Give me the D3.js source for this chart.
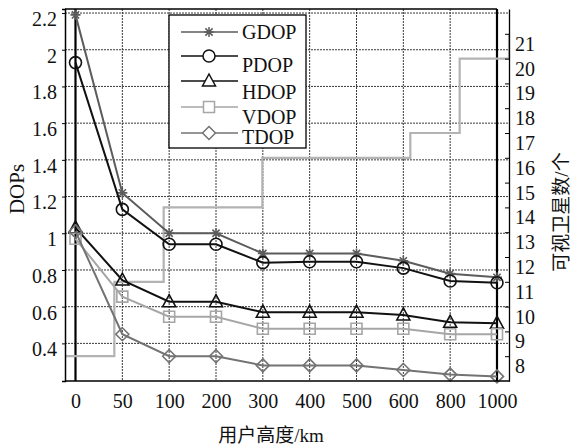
<!DOCTYPE html>
<html>
<head>
<meta charset="utf-8">
<script src="https://cdn.jsdelivr.net/npm/d3@7"></script>
<style>
  body { margin: 0; background: #fff; }
  svg text { font-family: 'Liberation Serif', 'Times New Roman', 'Noto Sans CJK SC', serif; fill: #111; }
</style>
</head>
<body>
<svg id="chart"></svg>
<script>
// heights (km) along the bottom axis
const heights = ['0', '50', '100', '200', '300', '400', '500', '600', '800', '1000'];

const gdop = [2.19, 1.22, 1.0, 1.0, 0.89, 0.89, 0.89, 0.85, 0.78, 0.76];
const pdop = [1.93, 1.13, 0.94, 0.94, 0.84, 0.845, 0.845, 0.81, 0.74, 0.73];
const hdop = [1.03, 0.745, 0.627, 0.627, 0.57, 0.57, 0.57, 0.555, 0.515, 0.51];
const vdop = [0.97, 0.655, 0.545, 0.545, 0.48, 0.48, 0.48, 0.48, 0.45, 0.45];
const tdop = [1.01, 0.45, 0.33, 0.33, 0.28, 0.28, 0.28, 0.255, 0.23, 0.22];

// visible satellites (right axis, drawn as stairs)
const satCount = [8, 11, 14, 14, 16, 16, 16, 17, 20, 21];

const leftTicks = [0.4, 0.6, 0.8, 1, 1.2, 1.4, 1.6, 1.8, 2, 2.2];
const rightTicks = [8, 9, 10, 11, 12, 13, 14, 15, 16, 17, 18, 19, 20, 21];

const seriesNames = ['GDOP', 'PDOP', 'HDOP', 'VDOP', 'TDOP'];
const seriesValues = [gdop, pdop, hdop, vdop, tdop];

const W = 572, H = 446;
const plot = { left: 65, right: 509, top: 9, bottom: 381 };
const FONT = "'Liberation Serif', 'Times New Roman', 'Noto Sans CJK SC', serif";

const svg = d3.select('#chart').attr('width', W).attr('height', H);

const x = d3.scalePoint().domain(heights).range([75.5, 497]);
const xStairs = d3.scaleLinear().domain([1, satCount.length]).range([plot.left, plot.right]);
const yL = d3.scaleLinear().domain([0.195, 2.222]).range([plot.bottom, plot.top]);
const yR = d3.scaleLinear().domain([7, 22]).range([plot.bottom, plot.top]);

const styles = [
    { color: '#5c5c5c', marker: 'star' },
    { color: '#111111', marker: 'circle' },
    { color: '#111111', marker: 'triangle' },
    { color: '#a6a6a6', marker: 'square' },
    { color: '#737373', marker: 'diamond' }
];

function markerPath(type) {
    switch (type) {
        case 'circle': return d3.symbol(d3.symbolCircle, 113)();
        case 'triangle': return 'M0,-7L6.5,5L-6.5,5Z';
        case 'square': return 'M-5.5,-5.5H5.5V5.5H-5.5Z';
        case 'diamond': return 'M0,-6.5L6.5,0L0,6.5L-6.5,0Z';
        default: return 'M0,-5V5M-5,0H5M-3.6,-3.6L3.6,3.6M-3.6,3.6L3.6,-3.6';
    }
}

// Grid
svg.append('g').selectAll('line')
    .data(leftTicks)
    .enter().append('line')
    .attr('x1', plot.left).attr('x2', plot.right)
    .attr('y1', d => yL(d)).attr('y2', d => yL(d))
    .attr('stroke', '#3a3a3a').attr('stroke-width', 1).attr('stroke-dasharray', '2,1');

svg.append('g').selectAll('line')
    .data(heights)
    .enter().append('line')
    .attr('x1', d => x(d)).attr('x2', d => x(d))
    .attr('y1', plot.top).attr('y2', plot.bottom)
    .attr('stroke', '#3a3a3a').attr('stroke-width', 1).attr('stroke-dasharray', '2,1');

// Thick lines at first and last height
svg.append('g').selectAll('line')
    .data([heights[0], heights[heights.length - 1]])
    .enter().append('line')
    .attr('x1', d => x(d)).attr('x2', d => x(d))
    .attr('y1', plot.top).attr('y2', plot.bottom)
    .attr('stroke', '#000').attr('stroke-width', 2.2);

// Satellite count stairs
svg.append('path')
    .datum(satCount)
    .attr('fill', 'none')
    .attr('stroke', '#b3b3b3')
    .attr('stroke-width', 2.2)
    .attr('d', d3.line().x((d, i) => xStairs(i + 1)).y(d => yR(d)).curve(d3.curveStepAfter));

// DOP lines + markers
seriesValues.forEach((vals, s) => {
    const st = styles[s];
    svg.append('path')
        .datum(vals)
        .attr('fill', 'none')
        .attr('stroke', st.color)
        .attr('stroke-width', 2)
        .attr('d', d3.line().x((d, i) => x(heights[i])).y(d => yL(d)));

    svg.append('g').selectAll('path')
        .data(vals)
        .enter().append('path')
        .attr('transform', (d, i) => `translate(${x(heights[i])},${yL(d)})`)
        .attr('d', markerPath(st.marker))
        .attr('fill', 'none')
        .attr('stroke', st.color)
        .attr('stroke-width', 1.6);
});

// Frame
svg.append('line').attr('x1', plot.left).attr('x2', 497).attr('y1', plot.top).attr('y2', plot.top)
    .attr('stroke', '#000').attr('stroke-width', 1.5);
svg.append('line').attr('x1', plot.left).attr('x2', plot.right + 1).attr('y1', plot.bottom).attr('y2', plot.bottom)
    .attr('stroke', '#000').attr('stroke-width', 1.6);

// Left axis
const leftAxis = svg.append('g')
    .attr('transform', `translate(${plot.left},0)`)
    .call(d3.axisLeft(yL).tickValues(leftTicks).tickSize(3).tickPadding(5).tickFormat(d => String(d)))
    .attr('font-family', FONT).attr('font-size', 20);
leftAxis.select('.domain').attr('stroke', '#000').attr('stroke-width', 1.5);
leftAxis.selectAll('text').attr('dy', '0.62em');

// Right axis
const rightAxis = svg.append('g')
    .attr('transform', `translate(${plot.right},0)`)
    .call(d3.axisRight(yR).tickValues(rightTicks).tickSizeInner(-4).tickSizeOuter(0).tickPadding(6))
    .attr('font-family', FONT).attr('font-size', 20);
rightAxis.select('.domain').attr('stroke', '#000').attr('stroke-width', 1.3);
rightAxis.selectAll('text').attr('dy', '0.82em');

// Bottom axis labels
const bottomAxis = svg.append('g')
    .attr('transform', `translate(0,${plot.bottom})`)
    .call(d3.axisBottom(x).tickSize(0).tickPadding(13))
    .attr('font-family', FONT).attr('font-size', 20);
bottomAxis.select('.domain').remove();

// Axis titles
svg.append('text')
    .attr('transform', 'rotate(-90)').attr('x', -189).attr('y', 17)
    .attr('text-anchor', 'middle').attr('dominant-baseline', 'central')
    .attr('font-size', '21px').text('DOPs');
svg.append('text')
    .attr('transform', 'rotate(-90)').attr('x', -212).attr('y', 561)
    .attr('text-anchor', 'middle').attr('dominant-baseline', 'central')
    .attr('font-size', '19px').text('可视卫星数/个');
svg.append('text')
    .attr('x', 271).attr('y', 435)
    .attr('text-anchor', 'middle').attr('dominant-baseline', 'central')
    .attr('font-size', '19px').text('用户高度/km');

// Legend
const legend = svg.append('g');
legend.append('rect')
    .attr('x', 169).attr('y', 15).attr('width', 137).attr('height', 133)
    .attr('fill', '#fff').attr('stroke', '#000').attr('stroke-width', 1.3);

const lineY = [32, 56, 81, 107, 133];
const textY = [32, 65, 92, 117, 137];
seriesNames.forEach((name, s) => {
    const st = styles[s];
    legend.append('line')
        .attr('x1', 181).attr('x2', 238).attr('y1', lineY[s]).attr('y2', lineY[s])
        .attr('stroke', st.color).attr('stroke-width', 1.5);
    legend.append('path')
        .attr('transform', `translate(209,${lineY[s]})`)
        .attr('d', markerPath(st.marker))
        .attr('fill', '#fff')
        .attr('stroke', st.color).attr('stroke-width', 1.5);
    legend.append('text')
        .attr('x', 242).attr('y', textY[s])
        .attr('dominant-baseline', 'central')
        .attr('font-size', '20px').text(name);
});
</script>
</body>
</html>
